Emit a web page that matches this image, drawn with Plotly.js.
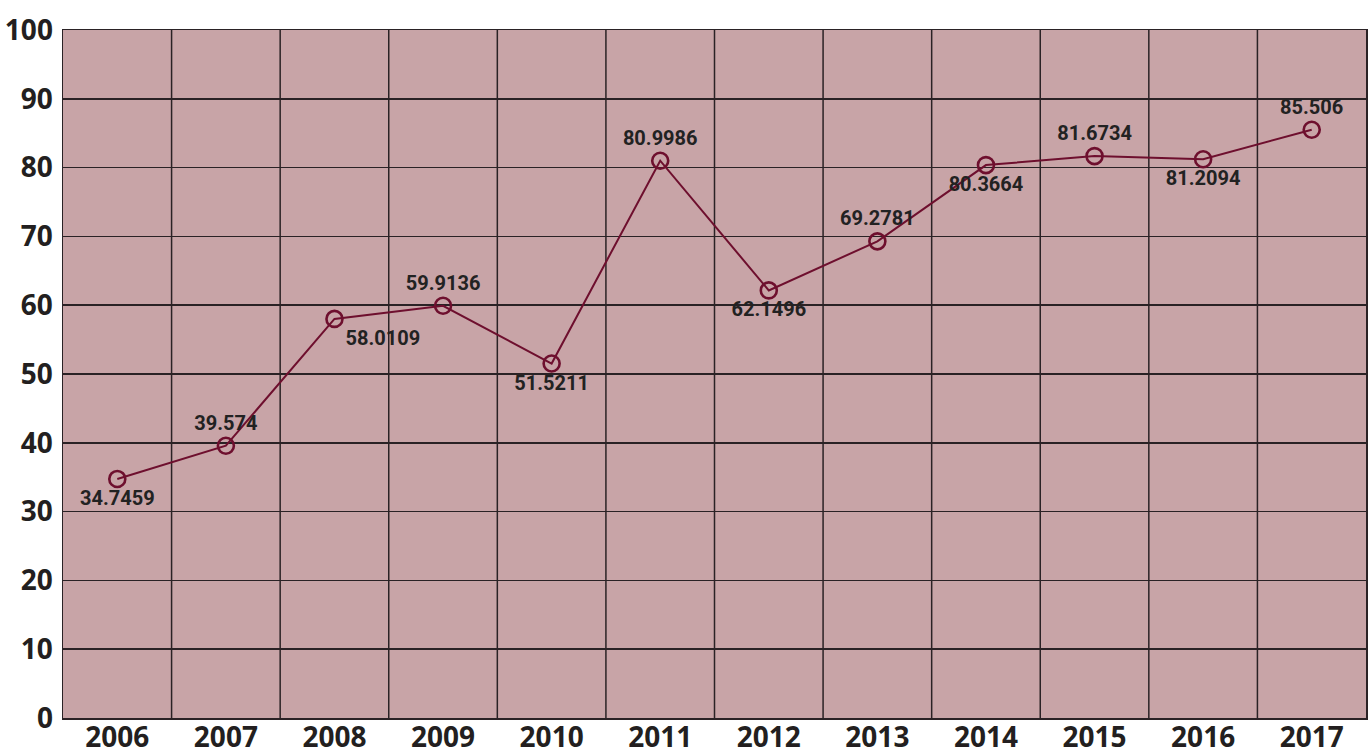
<!DOCTYPE html>
<html><head><meta charset="utf-8">
<script src="https://cdn.plot.ly/plotly-3.0.1.min.js"></script>
<style>html,body{margin:0;padding:0;background:#fff;}#chart{width:1371px;height:754px;}</style>
</head><body><div id="chart"></div>
<script>
var years = ['2006','2007','2008','2009','2010','2011','2012','2013','2014','2015','2016','2017'];
var values = [34.7459, 39.574, 58.0109, 59.9136, 51.5211, 80.9986, 62.1496, 69.2781, 80.3664, 81.6734, 81.2094, 85.506];
var labelSides = ['bottom center','top center','bottom right','top center','bottom center','top center','bottom center','top center','bottom center','top center','bottom center','top center'];
var yTicks = [0,10,20,30,40,50,60,70,80,90,100];

var trace = {
  x: years, y: values, type: 'scatter', mode: 'lines+markers+text',
  text: values.map(String), textposition: labelSides,
  textfont: {family: 'Roboto', size: 20, color: '#222222', weight: 700},
  line: {color: '#6e0f2e', width: 2},
  marker: {symbol: 'circle-open', size: 16, color: '#6e0f2e', line: {width: 2.6, color: '#6e0f2e'}},
  cliponaxis: false, hoverinfo: 'none'
};
var gridColor = '#2a2225';
var layout = {
  width: 1371, height: 754,
  margin: {l: 63, r: 5, t: 30, b: 36},
  paper_bgcolor: '#ffffff', plot_bgcolor: '#c8a4a7',
  showlegend: false,
  font: {family: 'Open Sans, sans-serif', color: '#231f20'},
  xaxis: {
    type: 'category', categoryorder: 'array', categoryarray: years,
    range: [-0.5, 11.5], showgrid: false, zeroline: false,
    tickfont: {size: 28, weight: 700, color: '#231f20'}, ticks: '', ticklabelstandoff: -6,
    showline: true, linecolor: gridColor, linewidth: 1.5, mirror: true, fixedrange: true
  },
  yaxis: {
    range: [0, 100], tickvals: yTicks, ticktext: yTicks.map(String),
    showgrid: true, gridcolor: gridColor, gridwidth: 1.5, zeroline: false,
    tickfont: {size: 28, weight: 700, color: '#231f20'}, ticks: '', ticklabelstandoff: 3,
    showline: true, linecolor: gridColor, linewidth: 1.5, mirror: true, fixedrange: true
  },
  shapes: years.slice(1).map(function(y, i){
    return {type: 'line', xref: 'x', yref: 'paper', x0: i + 0.5, x1: i + 0.5, y0: 0, y1: 1,
            line: {color: gridColor, width: 1.5}, layer: 'below'};
  })
};
Plotly.newPlot('chart', [trace], layout, {displayModeBar: false, staticPlot: true});
</script></body></html>
